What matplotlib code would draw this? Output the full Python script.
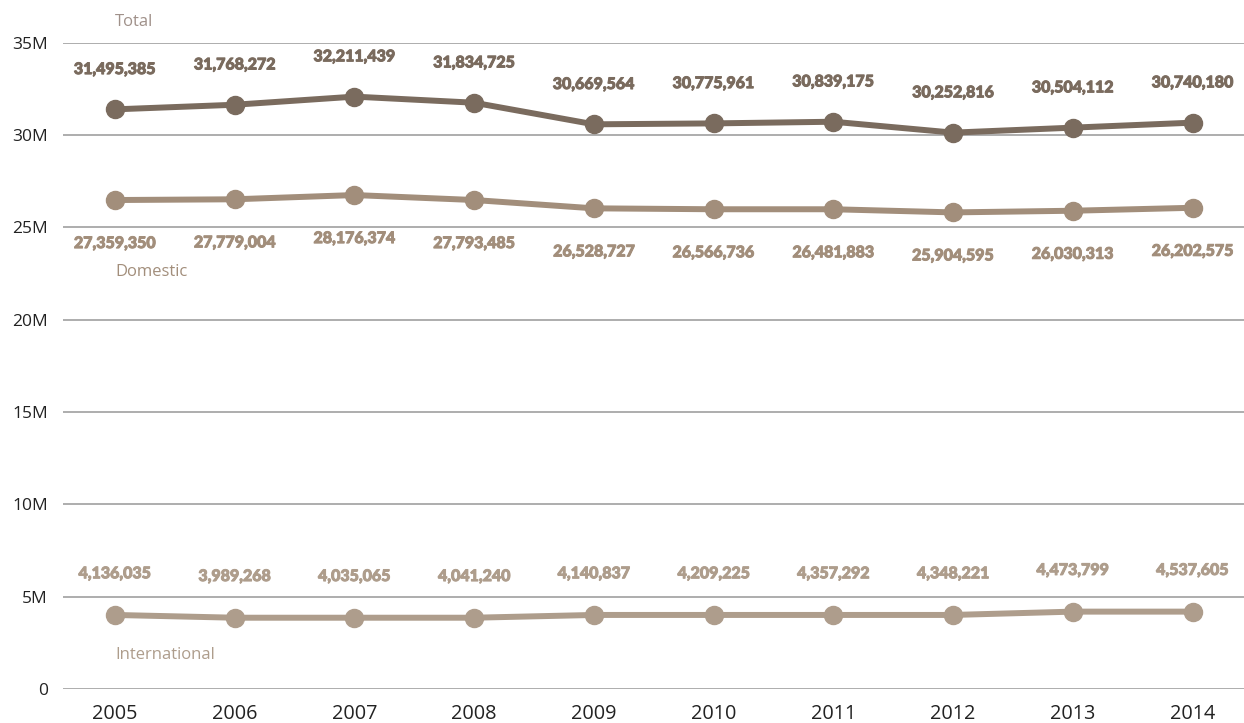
import matplotlib
matplotlib.use("Agg")
import matplotlib.pyplot as plt
import matplotlib.patheffects as pe
from matplotlib.ticker import FixedLocator, FuncFormatter

years = [2005, 2006, 2007, 2008, 2009, 2010, 2011, 2012, 2013, 2014]

# plotted point values (millions), as drawn in the picture
total_pts = [31.39, 31.64, 32.08, 31.75, 30.58, 30.63, 30.72, 30.13, 30.40, 30.67]
domestic_pts = [26.48, 26.52, 26.75, 26.48, 26.03, 25.98, 25.98, 25.81, 25.90, 26.06]
international_pts = [4.01, 3.86, 3.86, 3.86, 4.01, 4.01, 4.01, 4.01, 4.19, 4.19]

# data label values shown in the picture
total_labels = [31495385, 31768272, 32211439, 31834725, 30669564,
                30775961, 30839175, 30252816, 30504112, 30740180]
domestic_labels = [27359350, 27779004, 28176374, 27793485, 26528727,
                   26566736, 26481883, 25904595, 26030313, 26202575]
international_labels = [4136035, 3989268, 4035065, 4041240, 4140837,
                        4209225, 4357292, 4348221, 4473799, 4537605]

y_ticks = [0, 5, 10, 15, 20, 25, 30, 35]

c_total = "#7a6b5e"
c_dom = "#a28e7b"
c_int = "#ae9d8c"
c_name = "#a0918a"

fig = plt.figure(figsize=(12.44, 7.23), dpi=100)
ax = fig.add_axes([63 / 1244, 1 - 689 / 723, 1 - 63 / 1244, (689 - 42.7) / 723])
ax.set_xlim(years[0] - 0.434, years[-1] + 0.43)
ax.set_ylim(0, 35)

for s in ax.spines.values():
    s.set_visible(False)
ax.yaxis.set_major_locator(FixedLocator(y_ticks))
ax.yaxis.set_major_formatter(FuncFormatter(lambda v, p: "0" if v == 0 else f"{int(v)}M"))
ax.set_xticks(years)
ax.grid(axis="y", color="#a0a0a0", linewidth=1.2)
ax.set_axisbelow(True)
ax.tick_params(axis="both", length=0)
ax.tick_params(axis="y", pad=11, labelsize=12.5, labelcolor="#222222")
ax.tick_params(axis="x", pad=11, labelsize=14.3, labelcolor="#222222")
for lab in ax.get_xticklabels() + ax.get_yticklabels():
    lab.set_family("Open Sans")

series = [
    (total_pts, total_labels, c_total, 29),
    (domestic_pts, domestic_labels, c_dom, -31),
    (international_pts, international_labels, c_int, 30),
]
for pts, labs, col, off in series:
    ax.plot(years, pts, color=col, linewidth=4.3, marker="o", markersize=13,
            solid_capstyle="round", zorder=3)
    for x, y, v in zip(years, pts, labs):
        ax.annotate(f"{v:,}", (x, y), xytext=(0, off), textcoords="offset points",
                    ha="center", va="center", fontsize=11.5, fontweight=900,
                    family="Lato", color=col,
                    path_effects=[pe.withStroke(linewidth=0.7, foreground=col)])

# series names
ax.annotate("Total", (years[0], 35), xytext=(0, 15), textcoords="offset points",
            ha="left", va="center", fontsize=12, family="Open Sans", color=c_name,
            annotation_clip=False)
ax.annotate("Domestic", (years[0], domestic_pts[0]), xytext=(0, -52), textcoords="offset points",
            ha="left", va="center", fontsize=12, family="Open Sans", color=c_dom)
ax.annotate("International", (years[0], international_pts[0]), xytext=(0, -29), textcoords="offset points",
            ha="left", va="center", fontsize=12, family="Open Sans", color=c_int)

fig.savefig("out.png", dpi=100)
